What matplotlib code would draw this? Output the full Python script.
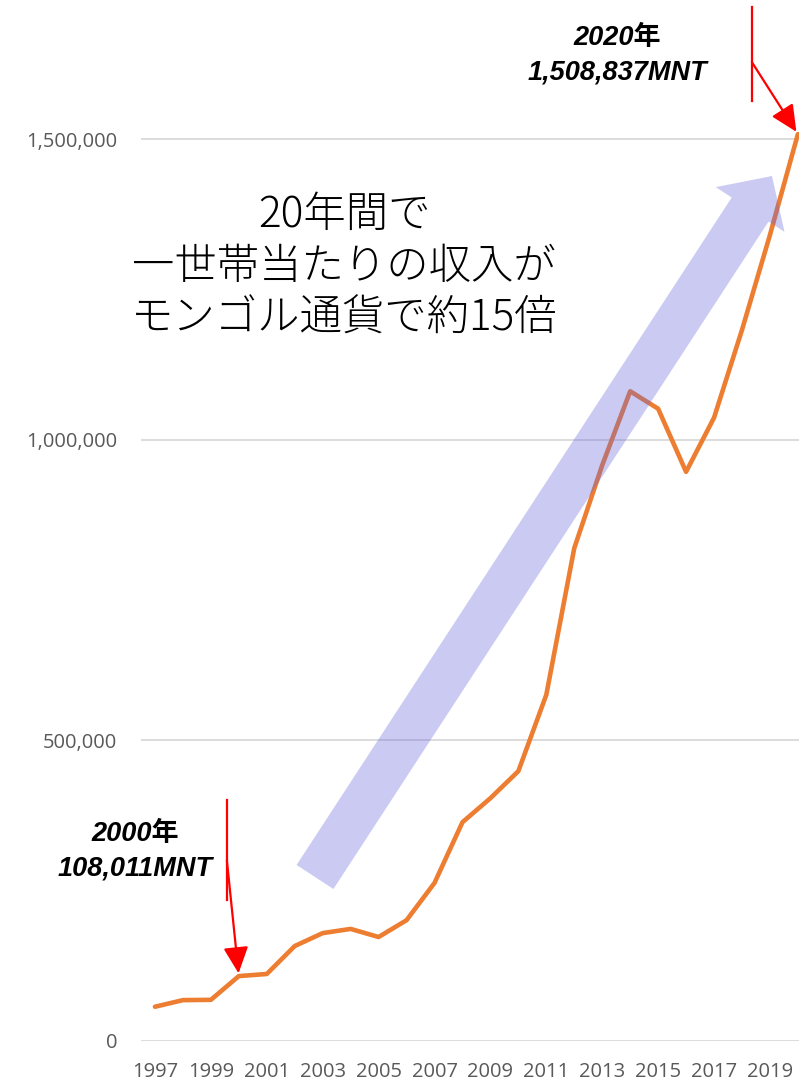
import matplotlib
matplotlib.use("Agg")
import matplotlib.pyplot as plt
from matplotlib.patches import Polygon
from matplotlib.lines import Line2D
import numpy as np

# household income per household (MNT)
years = list(range(1997, 2021))
income = [57000, 68000, 68500, 108011, 111500, 158000, 179500, 186500,
          173000, 201000, 263000, 364000, 404000, 449000, 576000, 820000,
          958000, 1081000, 1052000, 947000, 1037000, 1183000, 1341000, 1508837]
tick_years = list(range(1997, 2020, 2))
y_ticks = [0, 500000, 1000000, 1500000]

headline = "20年間で\n一世帯当たりの収入が\nモンゴル通貨で約15倍"
label_start = "2000年\n108,011MNT"
label_end = "2020年\n1,508,837MNT"

W, H = 799, 1084
fig = plt.figure(figsize=(W / 100, H / 100), dpi=100)
ax = fig.add_axes([141 / W, 1 - 1041 / H, 1 - 141 / W, 1041 / H])

ax.plot(years, income, color="#ED7D31", lw=3.3, solid_joinstyle="round",
        solid_capstyle="round", zorder=2, clip_on=False)

ax.set_xlim(1996.5, 2020.04)
ax.set_ylim(0, 1732000)
ax.set_xticks(tick_years)
ax.set_xticklabels([str(y) for y in tick_years])
ax.set_yticks(y_ticks)
ax.set_yticklabels([f"{v:,}" for v in y_ticks])
ax.tick_params(length=0, labelsize=14.5, labelcolor="#595959")
ax.tick_params(axis="x", pad=15)
ax.tick_params(axis="y", pad=17)
for lab in ax.get_xticklabels() + ax.get_yticklabels():
    lab.set_family("Open Sans")
ax.grid(axis="y", color="#D9D9D9", lw=1.3)
ax.set_axisbelow(True)
for s in ax.spines.values():
    s.set_visible(False)

# big translucent arrow (decoration, pixel layout)
base = np.array([315.0, 877.0])
tip = np.array([772.0, 176.0])
u = (tip - base) / np.linalg.norm(tip - base)
n = np.array([-u[1], u[0]])
if n[0] < 0:
    n = -n
hb = tip - u * 40
w, hw = 22, 41
pts = [base - n * w, hb - n * w, hb - n * hw, tip, hb + n * hw, hb + n * w, base + n * w]
pts = [(p[0] / W, 1 - p[1] / H) for p in pts]
ax.add_patch(Polygon(pts, closed=True, transform=fig.transFigure,
                     facecolor="#6666DD", alpha=0.34, edgecolor="none", zorder=3))

fig.text(344 / W, 1 - 267 / H, headline, ha="center", va="center",
         fontsize=30.5, linespacing=1.25, family=["Noto Sans CJK JP"],
         fontweight="light", color="black")

lab_font = dict(fontsize=19.5, fontweight="bold", fontstyle="italic",
                family=["Liberation Sans", "Noto Sans CJK JP"], ha="center", va="center",
                linespacing=1.4, color="black")
fig.text(135 / W, 1 - 851 / H, label_start, **lab_font)
fig.text(617 / W, 1 - 55 / H, label_end, **lab_font)

# red callouts
fig.canvas.draw()
def callout(year, value, bar_dx, bar_y0, bar_y1, start_dy):
    px, py = ax.transData.transform((year, value))
    fig.add_artist(Line2D([px + bar_dx, px + bar_dx], [py + bar_y0, py + bar_y1],
                          color="red", lw=1.6, transform=None))
    ax.annotate("", xy=(year, value), xycoords="data",
                xytext=(bar_dx, start_dy), textcoords="offset pixels",
                arrowprops=dict(arrowstyle="-|>,head_length=0.95,head_width=0.45",
                                color="red", lw=1.6, shrinkA=0, shrinkB=2,
                                mutation_scale=17), zorder=5, annotation_clip=False)

callout(2000, income[3], -12, 76, 176, 116)
callout(2020, income[-1], -46, 33, 127, 72)

fig.savefig("out.png", dpi=100)
